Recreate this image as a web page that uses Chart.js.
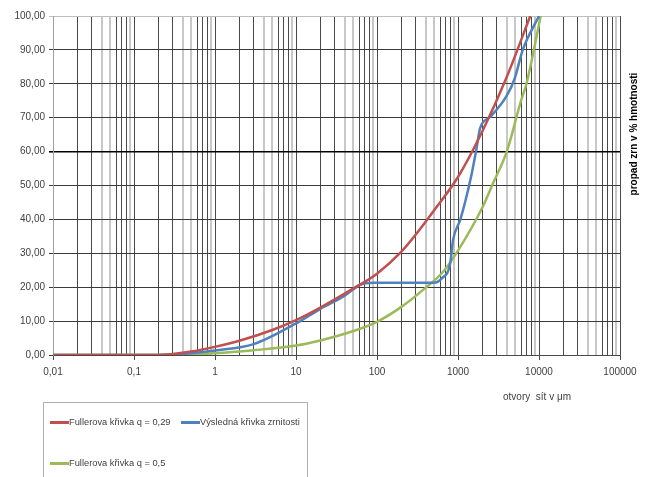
<!DOCTYPE html>
<html>
<head>
<meta charset="utf-8">
<script src="https://cdn.jsdelivr.net/npm/chart.js@4.4.0/dist/chart.umd.min.js"></script>
<style>
    html, body { margin: 0; padding: 0; background: #fff; }
    #wrap { position: relative; width: 651px; height: 477px; }
    #legend {
        position: absolute; left: 43px; top: 402px; width: 263px; height: 80px;
        border: 1px solid #b0b0b0; border-bottom: none;
        font: 9.3px "Liberation Sans", Arial, sans-serif; color: #404040;
    }
    .item { position: absolute; white-space: nowrap; line-height: 12px; }
    .item span { display: inline-block; width: 19px; height: 3px; vertical-align: middle; margin-right: 0px; }
</style>
</head>
<body>
<div id="wrap">
    <canvas id="gradingChart" width="651" height="477"></canvas>
    <div id="legend"></div>
</div>
<script>
// sieve openings (µm) and passing (%)
const redX   = [0.01, 0.2, 0.5, 1, 2, 5, 10, 20, 50, 100, 200, 300, 500, 1000, 2000, 4000, 7800];
const redY   = [0, 0, 1.0, 2.4, 4.2, 7.3, 10.3, 14, 19.5, 24, 30.5, 35.5, 42.5, 52.5, 66, 82, 100];

const blueX  = [0.01, 0.2, 0.5, 1, 3, 10, 20, 40, 63, 90, 200, 500, 630, 800, 870, 1070, 1450, 1680, 1880, 2500, 4000, 5000, 6300, 10000];
const blueY  = [0, 0, 0.5, 1.3, 3.2, 9.3, 13.6, 17.5, 20.8, 21.3, 21.3, 21.3, 22.6, 27, 34, 40, 52.6, 60.5, 67, 70.2, 76.5, 81.5, 90, 100];

const greenX = [0.01, 0.2, 1, 3, 10, 20, 50, 100, 200, 370, 650, 1000, 2000, 2700, 4000, 6000, 7000, 10500];
const greenY = [0, 0, 0.5, 1.4, 2.8, 4.3, 7, 9.8, 14.2, 19.2, 24.5, 30.8, 43.5, 50.6, 60, 75, 80, 100];

const seriesLabels = ['Fullerova křivka q = 0,29', 'Výsledná křivka zrnitosti', 'Fullerova křivka q = 0,5'];
const seriesColors = ['#C0504D', '#4F81BD', '#9BBB59'];

const xDecades = [0.01, 0.1, 1, 10, 100, 1000, 10000, 100000];
const xDecadeLabels = ['0,01', '0,1', '1', '10', '100', '1000', '10000', '100000'];
const darkMinor = [2, 3, 6, 7, 8];

const yTitle = 'propad zrn v % hmotnosti';
const xTitle = 'otvory  sít v μm';

// all gridline positions 1..9 x 10^n
const xGrid = [];
for (let e = -2; e <= 4; e++) {
    for (let m = 1; m <= 9; m++) xGrid.push(+(m * Math.pow(10, e)).toPrecision(3));
}
xGrid.push(100000);

function mantissa(v) {
    const p = Math.pow(10, Math.floor(Math.log10(v) + 1e-9));
    return Math.round(v / p);
}

function pts(xs, ys) {
    return xs.map((x, i) => ({ x: x, y: ys[i] }));
}

const FONT = '"Liberation Sans", Arial, sans-serif';

const titlePlugin = {
    id: 'titlePlugin',
    afterDraw(chart) {
        const ctx = chart.ctx;
        const area = chart.chartArea;
        ctx.save();
        ctx.fillStyle = '#000';
        ctx.font = 'bold 10px ' + FONT;
        ctx.textAlign = 'center';
        ctx.textBaseline = 'middle';
        ctx.translate(area.right + 14, area.top + 118);
        ctx.rotate(-Math.PI / 2);
        ctx.fillText(yTitle, 0, 0);
        ctx.restore();

        ctx.save();
        ctx.fillStyle = '#404040';
        ctx.font = '10px ' + FONT;
        ctx.textAlign = 'center';
        ctx.textBaseline = 'middle';
        ctx.fillText(xTitle, area.right - 83, area.bottom + 42);
        ctx.restore();
    }
};

const gradingData = {
    datasets: [
        { label: seriesLabels[0], data: pts(redX, redY), borderColor: seriesColors[0] },
        { label: seriesLabels[1], data: pts(blueX, blueY), borderColor: seriesColors[1] },
        { label: seriesLabels[2], data: pts(greenX, greenY), borderColor: seriesColors[2] }
    ].map(ds => Object.assign(ds, {
        borderWidth: 2.5,
        pointRadius: 0,
        fill: false,
        cubicInterpolationMode: 'monotone'
    }))
};

const gradingConfig = {
    type: 'line',
    data: gradingData,
    plugins: [titlePlugin],
    options: {
        responsive: false,
        animation: false,
        layout: { padding: { top: 16, right: 31, left: 0, bottom: 0 } },
        plugins: { legend: { display: false }, tooltip: { enabled: false } },
        scales: {
            x: {
                type: 'logarithmic',
                min: 0.01,
                max: 100000,
                afterBuildTicks: scale => { scale.ticks = xGrid.map(v => ({ value: v })); },
                afterFit: scale => { scale.height = 122; },
                ticks: {
                    autoSkip: false,
                    maxRotation: 0,
                    padding: 6,
                    color: '#404040',
                    font: { family: FONT, size: 10 },
                    callback: function (value) {
                        const i = xDecades.findIndex(d => Math.abs(d - value) / d < 1e-6);
                        return i >= 0 ? xDecadeLabels[i] : '';
                    }
                },
                grid: {
                    tickLength: 5,
                    color: ctx => {
                        const m = mantissa(ctx.tick.value);
                        return (m === 1 || darkMinor.includes(m)) ? '#4a4a4a' : '#c8c8c8';
                    },
                    lineWidth: ctx => {
                        const m = mantissa(ctx.tick.value);
                        return (m === 1 || darkMinor.includes(m)) ? 1 : 2;
                    },
                    tickColor: ctx => mantissa(ctx.tick.value) === 1 ? '#4a4a4a' : 'rgba(0,0,0,0)'
                },
                border: { color: '#4a4a4a' }
            },
            y: {
                min: 0,
                max: 100,
                afterFit: scale => { scale.width = 53; },
                ticks: {
                    stepSize: 10,
                    padding: 4,
                    color: '#404040',
                    font: { family: FONT, size: 10 },
                    callback: v => v.toFixed(2).replace('.', ',')
                },
                grid: {
                    tickLength: 4,
                    color: ctx => ctx.tick.value === 60 ? '#000' : (ctx.tick.value === 100 ? '#bdbdbd' : '#3a3a3a'),
                    lineWidth: ctx => ctx.tick.value === 60 ? 1.6 : 1
                },
                border: { color: '#a0a0a0' }
            }
        }
    }
};

const gradingChart = new Chart(document.getElementById('gradingChart'), gradingConfig);

// legend below the chart
const legendEl = document.getElementById('legend');
const legendSpots = [[6, 13], [137, 13], [6, 54]];
seriesLabels.forEach((label, i) => {
    const item = document.createElement('div');
    item.className = 'item';
    item.style.left = legendSpots[i][0] + 'px';
    item.style.top = legendSpots[i][1] + 'px';
    const swatch = document.createElement('span');
    swatch.style.background = seriesColors[i];
    item.appendChild(swatch);
    item.appendChild(document.createTextNode(label));
    legendEl.appendChild(item);
});
</script>
</body>
</html>
